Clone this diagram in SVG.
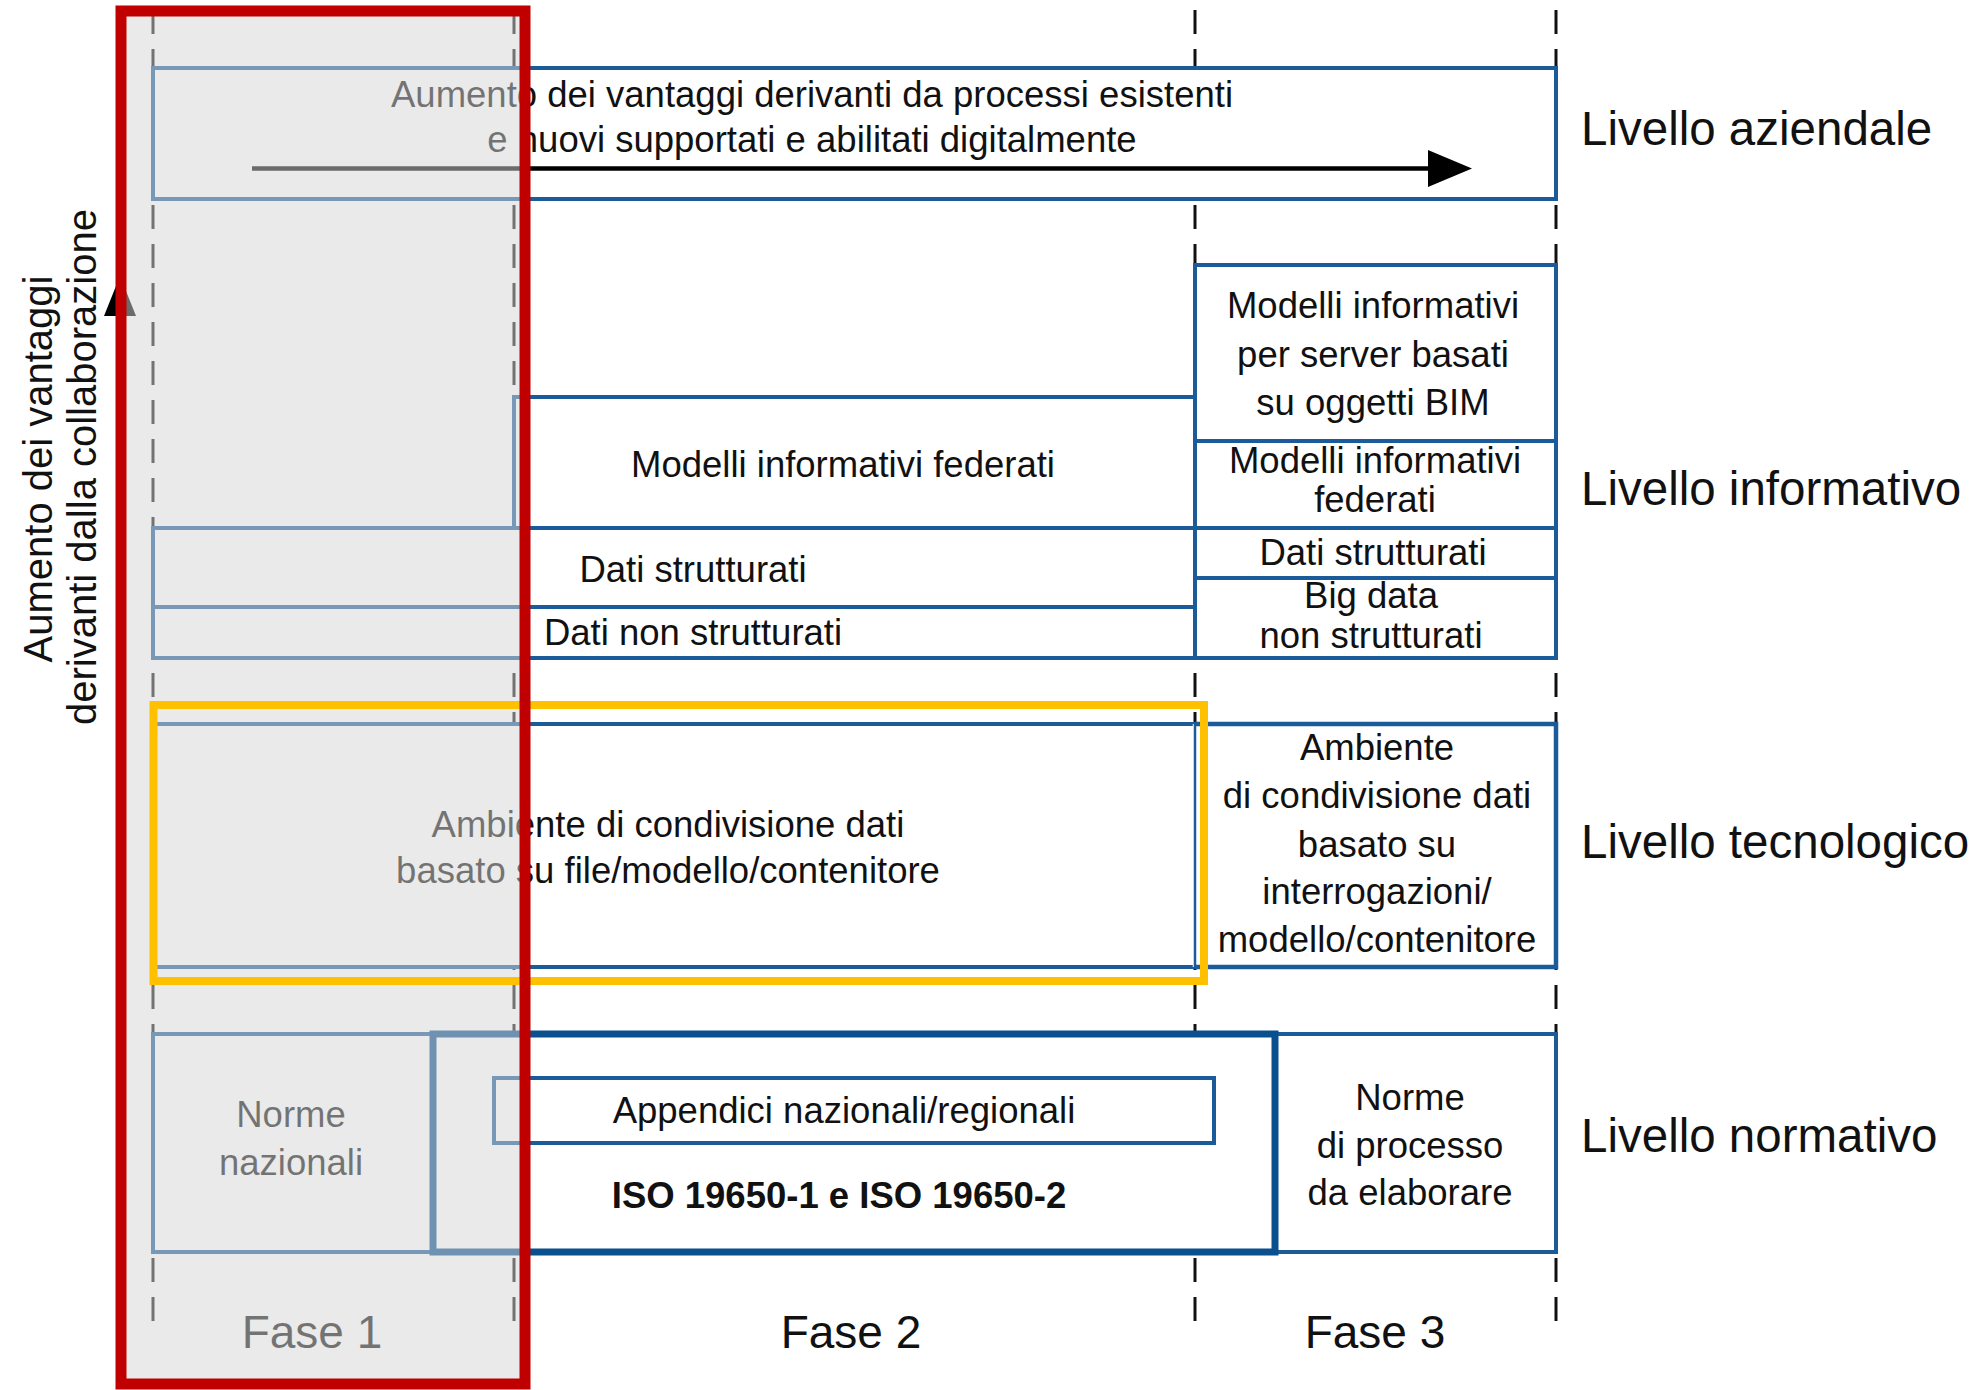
<svg xmlns="http://www.w3.org/2000/svg" width="1979" height="1390" viewBox="0 0 1979 1390">
<defs>
<style>
.dash{stroke:#111;stroke-width:3;stroke-dasharray:24 15;fill:none}
.box{fill:#fff;stroke:#1b5b9a;stroke-width:4}
.thick{fill:none;stroke:#0a4f8e;stroke-width:7}
.t{font-family:"Liberation Sans",Arial,sans-serif;font-size:36.5px;fill:#111;text-anchor:middle}
.b{font-weight:bold}
.lvl{font-family:"Liberation Sans",Arial,sans-serif;font-size:47.5px;fill:#111}
.fase{font-family:"Liberation Sans",Arial,sans-serif;font-size:46px;fill:#111;text-anchor:middle}
.vt{font-family:"Liberation Sans",Arial,sans-serif;font-size:40px;fill:#111;text-anchor:middle}
</style>
</defs>
<rect width="1979" height="1390" fill="#fff"/>
<g id="phase-lines">
<line class="dash" x1="153" y1="10" x2="153" y2="1322"/>
<line class="dash" x1="514" y1="10" x2="514" y2="1322"/>
<line class="dash" x1="1195" y1="10" x2="1195" y2="1322"/>
<line class="dash" x1="1556" y1="10" x2="1556" y2="1322"/>
</g>
<g id="n-aziendale">
<rect class="box" x="153" y="68" width="1403" height="131" stroke-width="4.5"/>
<text class="t" x="812" y="107">Aumento dei vantaggi derivanti da processi esistenti</text>
<text class="t" x="812" y="152">e nuovi supportati e abilitati digitalmente</text>
</g>
<g id="n-info-federati">
<rect class="box" x="514" y="397" width="681" height="131"/>
<text class="t" x="843" y="477">Modelli informativi federati</text>
</g>
<g id="n-info-dati">
<rect class="box" x="153" y="528" width="1042" height="79"/>
<text class="t" x="693" y="582">Dati strutturati</text>
</g>
<g id="n-info-nondati">
<rect class="box" x="153" y="607" width="1042" height="51"/>
<text class="t" x="693" y="645">Dati non strutturati</text>
</g>
<g id="n-info-server">
<rect class="box" x="1195" y="265" width="361" height="176"/>
<text class="t" x="1373" y="318">Modelli informativi</text>
<text class="t" x="1373" y="367">per server basati</text>
<text class="t" x="1373" y="415">su oggetti BIM</text>
</g>
<g id="n-info-federati3">
<rect class="box" x="1195" y="441" width="361" height="87"/>
<text class="t" x="1375" y="473">Modelli informativi</text>
<text class="t" x="1375" y="512">federati</text>
</g>
<g id="n-info-dati3">
<rect class="box" x="1195" y="528" width="361" height="50"/>
<text class="t" x="1373" y="565">Dati strutturati</text>
</g>
<g id="n-info-bigdata">
<rect class="box" x="1195" y="578" width="361" height="80"/>
<text class="t" x="1371" y="608">Big data</text>
<text class="t" x="1371" y="648">non strutturati</text>
</g>
<g id="n-tec-file">
<rect class="box" x="153" y="724" width="1042" height="243" stroke-width="4.5"/>
<line x1="1195" y1="724" x2="1195" y2="967" stroke="#fff" stroke-width="4.5"/>
<line x1="1195" y1="724" x2="1195" y2="967" stroke="#1b5b9a" stroke-width="2.5"/>
<text class="t" x="668" y="837">Ambiente di condivisione dati</text>
<text class="t" x="668" y="883">basato su file/modello/contenitore</text>
</g>
<g id="n-tec-query">
<path d="M1195,724 H1556 V967 H1195" fill="none" stroke="#1b5b9a" stroke-width="4.5"/>
<text class="t" x="1377" y="760">Ambiente</text>
<text class="t" x="1377" y="808">di condivisione dati</text>
<text class="t" x="1377" y="857">basato su</text>
<text class="t" x="1377" y="904">interrogazioni/</text>
<text class="t" x="1377" y="952">modello/contenitore</text>
</g>
<g id="n-norme-naz">
<rect class="box" x="153" y="1034" width="280" height="218"/>
<text class="t" x="291" y="1127">Norme</text>
<text class="t" x="291" y="1175">nazionali</text>
</g>
<g id="n-norme-proc">
<rect class="box" x="1275" y="1034" width="281" height="218"/>
<text class="t" x="1410" y="1110">Norme</text>
<text class="t" x="1410" y="1158">di processo</text>
<text class="t" x="1410" y="1205">da elaborare</text>
</g>
<g id="n-iso">
<rect x="433" y="1034" width="842" height="218" fill="#fff"/>
<rect class="thick" x="433" y="1034" width="842" height="218"/>
<text class="t b" x="839" y="1208">ISO 19650-1 e ISO 19650-2</text>
</g>
<g id="n-appendici">
<rect class="box" x="494" y="1078" width="720" height="65" stroke-width="3"/>
<text class="t" x="844" y="1123">Appendici nazionali/regionali</text>
</g>
<g id="connectors">
<line x1="252" y1="168.5" x2="1432" y2="168.5" stroke="#000" stroke-width="4.5"/>
<polygon points="1428,150 1472,168.5 1428,187" fill="#000"/>
<line x1="120" y1="1000" x2="120" y2="310" stroke="#000" stroke-width="4"/>
<polygon points="104,316 120,276 136,316" fill="#000"/>
</g>
<g id="labels">
<text class="lvl" x="1581" y="145">Livello aziendale</text>
<text class="lvl" x="1581" y="505">Livello informativo</text>
<text class="lvl" x="1581" y="858">Livello tecnologico</text>
<text class="lvl" x="1581" y="1152">Livello normativo</text>
<text class="fase" x="312" y="1348">Fase 1</text>
<text class="fase" x="851" y="1348">Fase 2</text>
<text class="fase" x="1375" y="1348">Fase 3</text>
<text class="vt" transform="translate(52,469) rotate(-90)">Aumento dei vantaggi</text>
<text class="vt" transform="translate(96,467) rotate(-90)">derivanti dalla collaborazione</text>
</g>
<g id="n-fase1-shade">
<rect x="121" y="11" width="404" height="1373" fill="#d6d6d6" fill-opacity="0.5"/>
</g>
<g id="n-yellow">
<rect x="153.5" y="705" width="1050.5" height="276" fill="none" stroke="#ffc000" stroke-width="8"/>
</g>
<g id="n-fase1-frame">
<rect x="121" y="11" width="404" height="1373" fill="none" stroke="#c00000" stroke-width="11"/>
</g>
</svg>
